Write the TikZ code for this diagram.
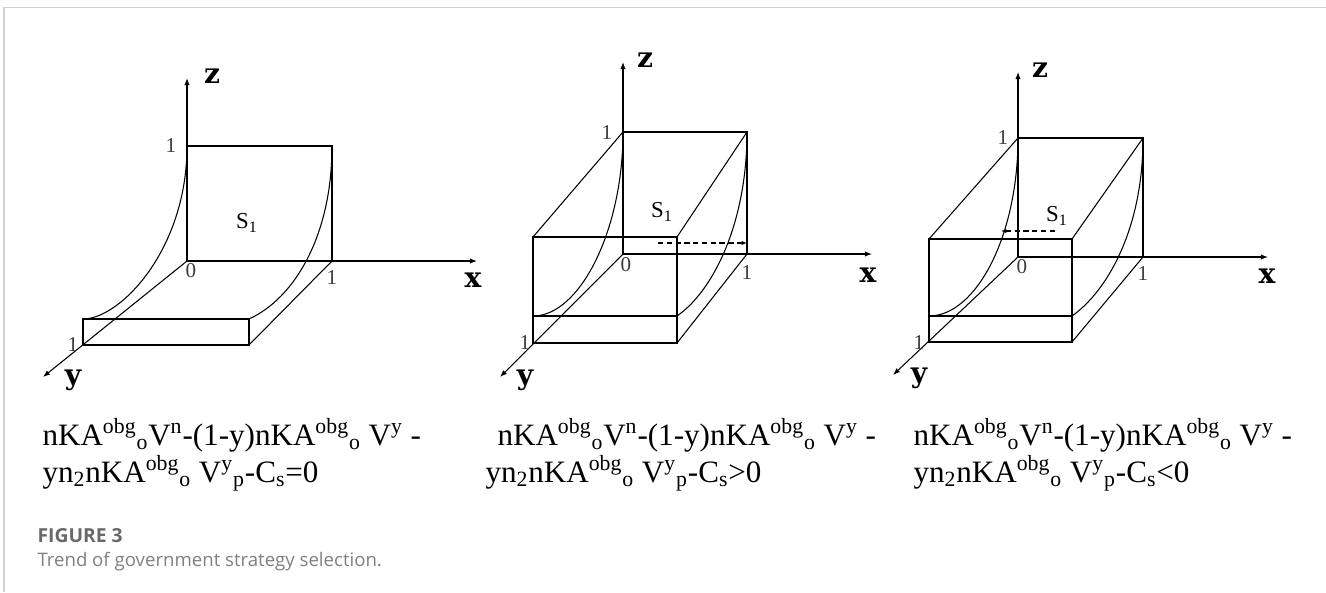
\documentclass[tikz,border=0pt]{standalone}
\usepackage{fontspec}
\setmainfont{Liberation Serif}
\newfontfamily\capfont{Open Sans}
\newfontfamily\axfont{DejaVu Serif}
\usetikzlibrary{arrows.meta}
\definecolor{framegray}{RGB}{210,210,210}
\definecolor{capgray}{RGB}{105,105,105}
\definecolor{tickgray}{RGB}{60,60,60}

\begin{document}
\begin{tikzpicture}[x=0.02cm, y=-0.02cm, line width=0.6pt,
    axis/.style={-{Latex[length=4pt,width=3pt]}},
    trend/.style={dash pattern=on 3pt off 2pt, -{Latex[length=3pt,width=2.4pt]}},
    axlabel/.style={font=\axfont\bfseries\fontsize{16}{16}\selectfont, inner sep=0pt},
    tick/.style={font=\fontsize{12}{12}\selectfont, text=tickgray, inner sep=0pt},
    area/.style={font=\fontsize{13}{13}\selectfont, inner sep=0pt},
    cond/.style={font=\fontsize{17.7}{22}\selectfont, anchor=base west, inner sep=0pt}]
    \useasboundingbox (0,0) rectangle (1326,592);
    \draw[framegray, line width=0.8pt] (4,592) -- (4,7.5) -- (1326,7.5);

    % panel 1: C_s = 0
    \coordinate (o1) at (187,261);
    \coordinate (z1) at (187,146);
    \coordinate (x1) at (332,261);
    \coordinate (xz1) at (332,146);
    \coordinate (y1) at (83,345);
    \coordinate (ys1) at (83,319);
    \coordinate (sr1) at (249,345);
    \coordinate (st1) at (249,319);
    \coordinate (zt1) at (187,78);
    \coordinate (xt1) at (477,261);
    \coordinate (yt1) at (43,377);

    \draw[axis] (o1) -- (zt1);
    \draw[axis] (o1) -- (xt1);
    \draw[axis] (o1) -- (yt1);
    \draw (z1) -- (xz1) -- (x1);
    \draw (ys1) rectangle (sr1);
    \draw (sr1) -- (x1);
    \draw (z1) .. controls (187,250) and (120,319) .. (ys1);
    \draw (xz1) .. controls (332,235) and (295,298) .. (st1);

    \node[axlabel] (zl1) at (212,76) {z};
    \node[axlabel] (xl1) at (473,280) {x};
    \node[axlabel] (yl1) at (73,380) {y};
    \node[tick] (zo1) at (171,146) {1};
    \node[tick] (xo1) at (332,278) {1};
    \node[tick] (oo1) at (191,271) {0};
    \node[tick] (yo1) at (73,345) {1};
    \node[area] (s1) at (247,223) {S\textsubscript{1}};

    % panel 2: C_s > 0
    \coordinate (o2) at (623,254);
    \coordinate (z2) at (623,132);
    \coordinate (x2) at (747,254);
    \coordinate (xz2) at (747,132);
    \coordinate (y2) at (533,343);
    \coordinate (ft2) at (533,237);
    \coordinate (fr2) at (677,237);
    \coordinate (fb2) at (677,343);
    \coordinate (ml2) at (533,316);
    \coordinate (mr2) at (677,316);
    \coordinate (zt2) at (623,62);
    \coordinate (xt2) at (872,254);
    \coordinate (yt2) at (500,377);
    \coordinate (da2) at (658,243);
    \coordinate (db2) at (747,243);
    \coordinate (tk2) at (729,254);

    \draw[axis] (o2) -- (zt2);
    \draw[axis] (o2) -- (xt2);
    \draw[axis] (o2) -- (yt2);
    \draw (z2) -- (xz2) -- (x2);
    \draw (y2) rectangle (fr2);
    \draw (ml2) -- (mr2);
    \draw (ft2) -- (z2);
    \draw (fr2) -- (xz2);
    \draw (fb2) -- (x2);
    \draw (z2) .. controls (623,230) and (580,316) .. (ml2);
    \draw (xz2) .. controls (747,225) and (712,292) .. (mr2);
    \draw[trend] (da2) -- (db2);
    \draw[line width=1.5pt] (tk2) -- (x2);

    \node[axlabel] (zl2) at (645,60) {z};
    \node[axlabel] (xl2) at (868,275) {x};
    \node[axlabel] (yl2) at (525,380) {y};
    \node[tick] (zo2) at (607,133) {1};
    \node[tick] (xo2) at (747,273) {1};
    \node[tick] (oo2) at (626,265) {0};
    \node[tick] (yo2) at (525,343) {1};
    \node[area] (s2) at (662,212) {S\textsubscript{1}};

    % panel 3: C_s < 0
    \coordinate (o3) at (1018,257);
    \coordinate (z3) at (1018,138);
    \coordinate (x3) at (1143,257);
    \coordinate (xz3) at (1143,138);
    \coordinate (y3) at (929,342);
    \coordinate (ft3) at (929,239);
    \coordinate (fr3) at (1072,239);
    \coordinate (fb3) at (1072,342);
    \coordinate (ml3) at (929,316);
    \coordinate (mr3) at (1072,316);
    \coordinate (zt3) at (1018,72);
    \coordinate (xt3) at (1268,257);
    \coordinate (yt3) at (893,375);
    \coordinate (da3) at (1055,231);
    \coordinate (db3) at (1001,231);

    \draw[axis] (o3) -- (zt3);
    \draw[axis] (o3) -- (xt3);
    \draw[axis] (o3) -- (yt3);
    \draw (z3) -- (xz3) -- (x3);
    \draw (y3) rectangle (fr3);
    \draw (ml3) -- (mr3);
    \draw (ft3) -- (z3);
    \draw (fr3) -- (xz3);
    \draw (fb3) -- (x3);
    \draw (z3) .. controls (1018,236) and (976,316) .. (ml3);
    \draw (xz3) .. controls (1143,231) and (1106,292) .. (mr3);
    \draw[trend] (da3) -- (db3);

    \node[axlabel] (zl3) at (1040,70) {z};
    \node[axlabel] (xl3) at (1267,276) {x};
    \node[axlabel] (yl3) at (919,378) {y};
    \node[tick] (zo3) at (1003,138) {1};
    \node[tick] (xo3) at (1143,274) {1};
    \node[tick] (oo3) at (1022,267) {0};
    \node[tick] (yo3) at (919,343) {1};
    \node[area] (s3) at (1057,216) {S\textsubscript{1}};

    % conditions
    \node[cond] (eq1a) at (42,445) {nKA\textsuperscript{obg}\textsubscript{o}V\textsuperscript{n}-(1-y)nKA\textsuperscript{obg}\textsubscript{o} V\textsuperscript{y} -};
    \node[cond] (eq1b) at (42,482) {yn\textsubscript{2}nKA\textsuperscript{obg}\textsubscript{o} V\textsuperscript{y}\textsubscript{p}-C\textsubscript{s}=0};
    \node[cond] (eq2a) at (497,445) {nKA\textsuperscript{obg}\textsubscript{o}V\textsuperscript{n}-(1-y)nKA\textsuperscript{obg}\textsubscript{o} V\textsuperscript{y} -};
    \node[cond] (eq2b) at (485,482) {yn\textsubscript{2}nKA\textsuperscript{obg}\textsubscript{o} V\textsuperscript{y}\textsubscript{p}-C\textsubscript{s}>0};
    \node[cond] (eq3a) at (913,445) {nKA\textsuperscript{obg}\textsubscript{o}V\textsuperscript{n}-(1-y)nKA\textsuperscript{obg}\textsubscript{o} V\textsuperscript{y} -};
    \node[cond] (eq3b) at (913,482) {yn\textsubscript{2}nKA\textsuperscript{obg}\textsubscript{o} V\textsuperscript{y}\textsubscript{p}-C\textsubscript{s}<0};

    % caption
    \node[anchor=base west, inner sep=0pt, text=capgray, font=\capfont\bfseries\fontsize{11}{13}\selectfont] (fig) at (37,542) {FIGURE 3};
    \node[anchor=base west, inner sep=0pt, text=capgray!85, font=\capfont\fontsize{10.6}{13}\selectfont] (cap) at (37,566) {Trend of government strategy selection.};
\end{tikzpicture}
\end{document}
